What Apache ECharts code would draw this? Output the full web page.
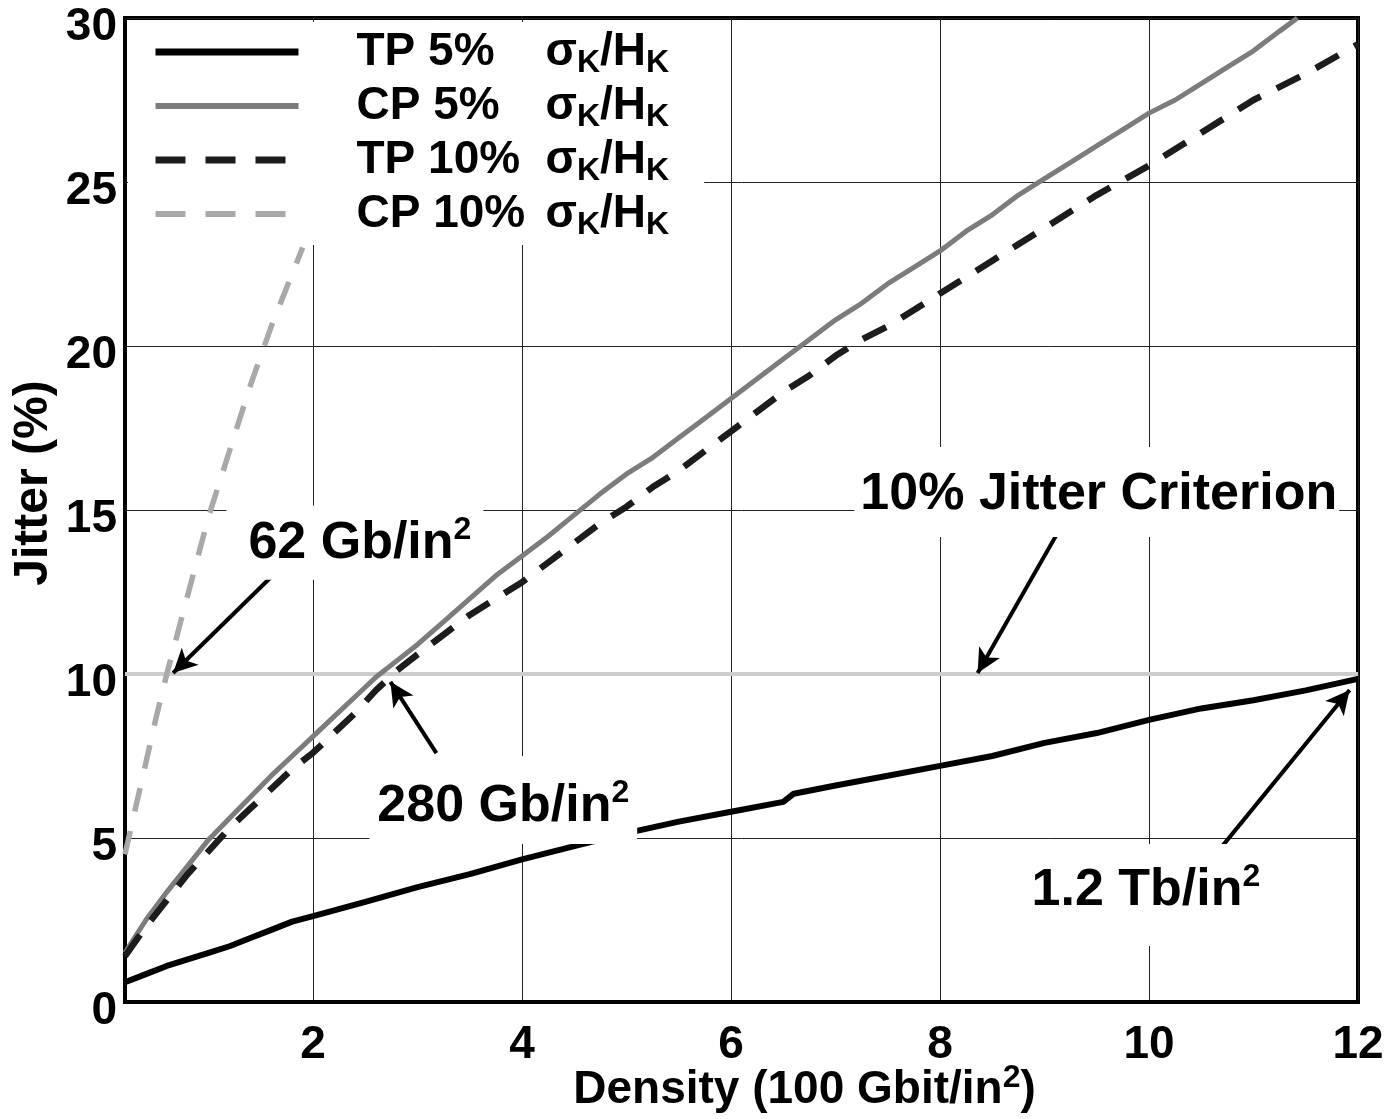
<!DOCTYPE html>
<html>
<head>
<meta charset="utf-8">
<script src="https://cdn.jsdelivr.net/npm/echarts@6/dist/echarts.min.js"></script>
<style>
html,body{margin:0;padding:0;background:#fff;}
#chart{width:1397px;height:1119px;}
</style>
</head>
<body>
<div id="chart"></div>
<script>
// ---------- data ----------
const seriesNames = ['TP 5%', 'CP 5%', 'TP 10%', 'CP 10%'];

const tp5X = [0.2,0.4,0.6,0.8,1.0,1.2,1.4,1.6,1.8,2.0,2.5,3.0,3.5,4.0,4.5,5.0,5.5,6.0,6.5,6.6,7.0,7.5,8.0,8.5,9.0,9.5,10.0,10.5,11.0,11.5,12.0];
const tp5Y = [0.6,0.85,1.1,1.3,1.5,1.7,1.95,2.2,2.45,2.62,3.05,3.5,3.9,4.35,4.75,5.15,5.5,5.8,6.1,6.35,6.6,6.9,7.2,7.5,7.9,8.2,8.6,8.95,9.2,9.5,9.85];

const cp5X = [0.2,0.3,0.4,0.6,0.8,1.0,1.2,1.4,1.6,1.8,2.0,2.2,2.4,2.6,2.8,3.0,3.25,3.5,3.75,4.0,4.25,4.5,4.75,5.0,5.25,5.5,5.75,6.0,6.25,6.5,6.75,7.0,7.25,7.5,7.75,8.0,8.25,8.5,8.75,9.0,9.25,9.5,9.75,10.0,10.25,10.5,10.75,11.0,11.25,11.42];
const cp5Y = [1.5,2.0,2.5,3.35,4.15,4.95,5.6,6.25,6.9,7.5,8.1,8.7,9.3,9.9,10.4,10.9,11.6,12.3,13.0,13.6,14.2,14.85,15.5,16.1,16.6,17.2,17.8,18.4,19.0,19.6,20.2,20.8,21.3,21.9,22.4,22.9,23.5,24.0,24.6,25.1,25.6,26.1,26.6,27.1,27.5,28.0,28.5,29.0,29.6,30.0];

const tp10X = [0.2,0.4,0.6,0.8,1.0,1.2,1.4,1.6,1.8,2.0,2.2,2.4,2.6,2.8,3.0,3.25,3.5,3.75,4.0,4.25,4.5,4.75,5.0,5.25,5.5,5.75,6.0,6.25,6.5,6.75,7.0,7.25,7.5,7.75,8.0,8.5,9.0,9.5,10.0,10.5,11.0,11.5,12.0];
const tp10Y = [1.4,2.3,3.1,3.9,4.6,5.3,5.9,6.5,7.1,7.6,8.2,8.8,9.5,10.1,10.6,11.2,11.8,12.3,12.8,13.4,14.0,14.6,15.1,15.7,16.2,16.8,17.4,18.0,18.6,19.1,19.7,20.2,20.6,21.1,21.6,22.6,23.6,24.6,25.5,26.5,27.5,28.3,29.2];

const cp10X = [0.2,0.3,0.4,0.5,0.6,0.7,0.8,0.9,1.0,1.1,1.2,1.3,1.4,1.5,1.6,1.7,1.8,1.9];
const cp10Y = [4.5,5.9,7.3,8.7,10.0,11.2,12.4,13.6,14.8,15.8,16.8,17.8,18.8,19.7,20.6,21.4,22.2,23.0];

const criterionX = [0.2, 12];
const criterionY = [10, 10];

const xTicks = [2, 4, 6, 8, 10, 12];
const yTicks = [0, 5, 10, 15, 20, 25, 30];

const annoText = ['62 Gb/in²', '280 Gb/in²', '10% Jitter Criterion', '1.2 Tb/in²'];
const annoX = [2.40, 3.82, 9.50, 9.97];
const annoY = [14.0, 6.16, 15.55, 3.26];

const arrowFromX = [1.74, 3.18, 9.13, 10.67];
const arrowFromY = [13.4, 7.59, 14.33, 4.63];
const arrowToX = [0.66, 2.74, 8.36, 11.92];
const arrowToY = [10.03, 9.76, 10.03, 9.51];

// ---------- styles ----------
const FONT = "'Liberation Sans', Arial, Helvetica, sans-serif";
const annoPad = [[8,12,6,22],[21,8,7,8],[18,2,12,6],[17,10,25,10]];
const supRich = {
  sup: {fontFamily: FONT, fontWeight: 'bold', fontSize: 32, color: '#000', lineHeight: 30, verticalAlign: 'top'}
};
const withSup = s => s.replace('²', '{sup|2}');

const zip = (xs, ys) => xs.map((x, i) => [x, ys[i]]);

const chart = echarts.init(document.getElementById('chart'), null, {renderer: 'canvas'});

const curveStyles = [
  {color: '#000000', width: 6, type: 'solid', legendWidth: 7},
  {color: '#7c7c7c', width: 5, type: 'solid', legendWidth: 6},
  {color: '#1c1c1c', width: 6.5, type: [26, 18], legendWidth: 7},
  {color: '#a9a9a9', width: 5.5, type: [24, 20], legendWidth: 6}
];
const curveData = [zip(tp5X, tp5Y), zip(cp5X, cp5Y), zip(tp10X, tp10Y), zip(cp10X, cp10Y)];

const series = [];
series.push({
  name: 'criterion', type: 'line', data: zip(criterionX, criterionY),
  symbol: 'none', z: 2, silent: true,
  lineStyle: {color: '#cdcdcd', width: 4}
});
seriesNames.forEach((n, i) => {
  series.push({
    name: n, type: 'line', data: curveData[i], symbol: 'none', z: 3, silent: true,
    itemStyle: {color: curveStyles[i].color},
    lineStyle: {color: curveStyles[i].color, width: curveStyles[i].width, type: curveStyles[i].type, cap: 'butt'}
  });
});
series.push({
  name: 'annotations', type: 'scatter', z: 10, silent: true,
  symbolSize: 0,
  itemStyle: {opacity: 1},
  data: annoText.map((t, i) => ({
    name: t, value: [annoX[i], annoY[i]],
    label: {padding: annoPad[i]}
  })),
  label: {
    show: true, position: 'inside', formatter: p => withSup(p.name),
    fontFamily: FONT, fontWeight: 'bold', fontSize: 52, color: '#000', lineHeight: 60,
    backgroundColor: '#ffffff', opacity: 1,
    rich: supRich
  },
  markLine: {
    silent: true, symbol: ['none', 'arrow'], symbolSize: [18, 24],
    label: {show: false},
    lineStyle: {color: '#000', width: 4, type: 'solid', opacity: 1},
    data: arrowFromX.map((x, i) => [
      {coord: [x, arrowFromY[i]]},
      {coord: [arrowToX[i], arrowToY[i]]}
    ])
  }
});

const option = {
  animation: false,
  backgroundColor: '#ffffff',
  grid: {left: 125, right: 39, top: 18, bottom: 117, show: true, borderColor: '#000', borderWidth: 4,
    backgroundColor: 'transparent', containLabel: false, outerBoundsMode: 'none'},
  legend: {
    orient: 'vertical', left: 128, top: 22,
    padding: [3, 35, 4, 24], itemGap: 0, itemWidth: 143, itemHeight: 14,
    backgroundColor: '#ffffff', selectedMode: false,
    itemStyle: {opacity: 0},
    data: seriesNames.map((n, i) => ({
      name: n,
      lineStyle: {width: curveStyles[i].legendWidth, type: curveStyles[i].type === 'solid' ? 'solid' : [30, 20], color: curveStyles[i].color, cap: 'butt'}
    })),
    formatter: n => '{g| }{n|' + n + '}{s|σ}{k|K}{s|/H}{k|K}',
    textStyle: {
      fontFamily: FONT, fontWeight: 'bold', fontSize: 46, color: '#000', lineHeight: 54,
      rich: {
        g: {width: 53, fontSize: 46, lineHeight: 54},
        n: {width: 189, fontFamily: FONT, fontWeight: 'bold', fontSize: 46, color: '#000', lineHeight: 54},
        s: {fontFamily: FONT, fontWeight: 'bold', fontSize: 46, color: '#000', lineHeight: 54},
        k: {fontFamily: FONT, fontWeight: 'bold', fontSize: 32, color: '#000', lineHeight: 24, verticalAlign: 'bottom'}
      }
    }
  },
  xAxis: {
    type: 'value', min: 0.2, max: 12,
    axisLine: {show: true, lineStyle: {color: '#000', width: 4}},
    axisTick: {show: false, customValues: xTicks},
    axisLabel: {customValues: xTicks, fontFamily: FONT, fontWeight: 'bold', fontSize: 46, color: '#000', margin: 20},
    splitLine: {show: true, lineStyle: {color: '#222', width: 1}},
    name: withSup('Density (100 Gbit/in²)'), nameLocation: 'middle', nameGap: 60, nameMoveOverlap: false,
    nameTextStyle: {fontFamily: FONT, fontWeight: 'bold', fontSize: 46, color: '#000', lineHeight: 56, padding: [0, 0, 0, 126], rich: supRich}
  },
  yAxis: {
    type: 'value', min: 0, max: 30, interval: 5,
    axisLine: {show: true, lineStyle: {color: '#000', width: 4}},
    axisTick: {show: false},
    axisLabel: {fontFamily: FONT, fontWeight: 'bold', fontSize: 46, color: '#000', margin: 8,
      verticalAlign: 'top', lineHeight: 18,
      formatter: v => (yTicks.indexOf(v) >= 0 ? String(v) : '')},
    splitLine: {show: true, lineStyle: {color: '#222', width: 1}},
    name: 'Jitter (%)', nameLocation: 'middle', nameGap: 67, nameMoveOverlap: false,
    nameTextStyle: {fontFamily: FONT, fontWeight: 'bold', fontSize: 48, color: '#000', padding: [0, 0, 0, 54]}
  },
  series: series
};
chart.setOption(option);
</script>
</body>
</html>
